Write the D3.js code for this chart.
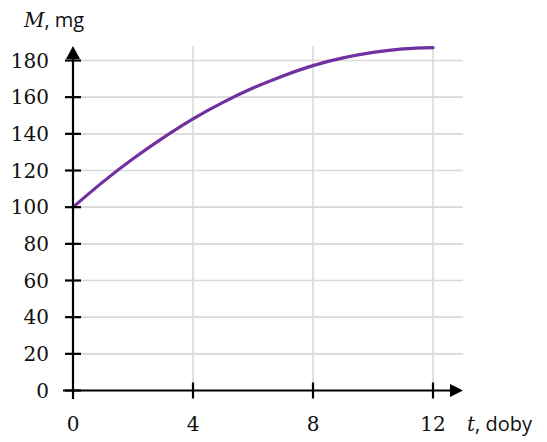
<!DOCTYPE html>
<html><head><meta charset="utf-8">
<script src="https://cdn.jsdelivr.net/npm/d3@7"></script>
<style>body{margin:0;background:#fff}svg{display:block}</style>
</head><body>
<script>
const tValues = [0,1,2,3,4,5,6,7,8,9,10,11,12];
const mValues = [100,113.8,126.4,137.8,148.2,157.2,165,171.6,177.2,181.4,184.4,186.3,187];
const xTicks = [0,4,8,12];
const yTicks = [0,20,40,60,80,100,120,140,160,180];
const xGrid = [4,8,12];

const W=547,H=442;
const svg=d3.select("body").append("svg").attr("width",W).attr("height",H);
const x=d3.scaleLinear().domain([0,12]).range([73,433]);
const y=d3.scaleLinear().domain([0,180]).range([390.5,60.5]);
const gridRight=463, gridTop=46;

// grid
svg.append("g").selectAll("line").data(yTicks.filter(d=>d>0)).join("line")
  .attr("x1",x(0)).attr("x2",gridRight).attr("y1",d=>y(d)).attr("y2",d=>y(d))
  .attr("stroke","#d9d9d9").attr("stroke-width",1.6);
svg.append("g").selectAll("line").data(xGrid).join("line")
  .attr("x1",d=>x(d)).attr("x2",d=>x(d)).attr("y1",y(0)).attr("y2",gridTop)
  .attr("stroke","#d9d9d9").attr("stroke-width",1.6);

// curve
const data=tValues.map((t,i)=>({t,m:mValues[i]}));
svg.append("path").datum(data)
  .attr("d",d3.line().x(d=>x(d.t)).y(d=>y(d.m)).curve(d3.curveNatural))
  .attr("fill","none").attr("stroke","#7030a0").attr("stroke-width",3.2).attr("stroke-linecap","round");

// axes
const ax=svg.append("g").attr("stroke","#000").attr("stroke-width",2.2);
ax.append("line").attr("x1",x(0)).attr("x2",x(0)).attr("y1",399).attr("y2",58);
ax.append("line").attr("x1",63).attr("x2",452).attr("y1",y(0)).attr("y2",y(0));
svg.append("path").attr("d",`M${x(0)},46 L${x(0)-7},59 L${x(0)+7},59 Z`).attr("fill","#000");
svg.append("path").attr("d",`M463,${y(0)} L450,${y(0)-6.5} L450,${y(0)+6.5} Z`).attr("fill","#000");

// y ticks
const yt=svg.append("g");
yTicks.forEach(v=>{
  yt.append("line").attr("x1",x(0)-8).attr("x2",x(0)+8).attr("y1",y(v)).attr("y2",y(v))
    .attr("stroke","#000").attr("stroke-width",2.2);
  yt.append("text").attr("x",49).attr("y",y(v)).attr("dy","0.36em").attr("text-anchor","end")
    .attr("font-family","DejaVu Serif").attr("font-size",20).attr("fill","#111").text(v);
});
// x ticks
xTicks.forEach(v=>{
  if(v>0) yt.append("line").attr("x1",x(v)).attr("x2",x(v)).attr("y1",y(0)-8).attr("y2",y(0)+8)
    .attr("stroke","#000").attr("stroke-width",2.2);
  yt.append("text").attr("x",x(v)).attr("y",431).attr("text-anchor","middle")
    .attr("font-family","DejaVu Serif").attr("font-size",20).attr("fill","#111").text(v);
});

// axis labels
const yl=svg.append("text").attr("x",24).attr("y",27).attr("font-size",20).attr("fill","#111");
yl.append("tspan").attr("font-family","DejaVu Serif").attr("font-style","italic").text("M");
yl.append("tspan").attr("font-family","Open Sans").text(", mg");
const xl=svg.append("text").attr("x",467).attr("y",431).attr("font-size",20).attr("fill","#111");
xl.append("tspan").attr("font-family","DejaVu Serif").attr("font-style","italic").text("t");
xl.append("tspan").attr("font-family","Open Sans").text(", doby");
</script>
</body></html>
